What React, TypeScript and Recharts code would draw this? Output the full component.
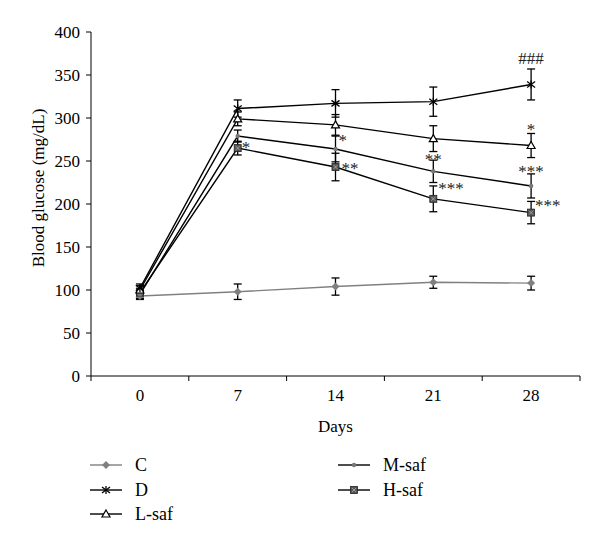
import { LineChart, Line, XAxis, YAxis, ErrorBar, LabelList } from "recharts";

const days = [0, 7, 14, 21, 28];
const yTicks = [0, 50, 100, 150, 200, 250, 300, 350, 400];
const dayEdges = [-3.5, 3.5, 10.5, 17.5, 24.5, 31.5];

const cMean = [93, 98, 104, 109, 108];
const cErr = [4, 9, 10, 7, 8];
const dMean = [102, 311, 317, 319, 339];
const dErr = [5, 10, 16, 17, 18];
const lMean = [100, 299, 292, 276, 268];
const lErr = [5, 8, 12, 15, 14];
const mMean = [95, 279, 264, 238, 221];
const mErr = [5, 7, 15, 13, 14];
const hMean = [97, 265, 243, 206, 190];
const hErr = [5, 8, 16, 15, 13];

const dMarks = ["", "", "", "", "###"];
const lMarks = ["", "", "", "", "*"];
const mMarks = ["", "", "*", "**", "***"];
const hMarks = ["", "*", "**", "***", "***"];

// label placement relative to the point: [dx, dy, anchor]
const markPos: Record<string, [number, number, string][]> = {
  D: [[0, 0, "middle"], [0, 0, "middle"], [0, 0, "middle"], [0, 0, "middle"], [0, -20, "middle"]],
  L: [[0, 0, "middle"], [0, 0, "middle"], [0, 0, "middle"], [0, 0, "middle"], [0, -11, "middle"]],
  M: [[0, 0, "middle"], [0, 0, "middle"], [3, -3, "start"], [0, -6, "middle"], [0, -9, "middle"]],
  H: [[0, 0, "middle"], [4, 5, "start"], [6, 7, "start"], [5, -5, "start"], [4, -2, "start"]],
};

const data = days.map((day, i) => ({
  day,
  C: cMean[i],
  C_err: cErr[i],
  D: dMean[i],
  D_err: dErr[i],
  D_mark: dMarks[i],
  L: lMean[i],
  L_err: lErr[i],
  L_mark: lMarks[i],
  M: mMean[i],
  M_err: mErr[i],
  M_mark: mMarks[i],
  H: hMean[i],
  H_err: hErr[i],
  H_mark: hMarks[i],
}));

const FONT = "'Liberation Serif', 'DejaVu Serif', serif";
const BAND = 97.8;

function marker(kind: string, cx: number, cy: number, key?: any) {
  if (kind === "diamond")
    return (
      <polygon key={key} points={`${cx},${cy - 4} ${cx + 4},${cy} ${cx},${cy + 4} ${cx - 4},${cy}`} fill="#808080" />
    );
  if (kind === "star")
    return (
      <g key={key} stroke="#000" strokeWidth={1.3}>
        <line x1={cx} y1={cy - 4} x2={cx} y2={cy + 4} />
        <line x1={cx - 4} y1={cy - 3} x2={cx + 4} y2={cy + 3} />
        <line x1={cx - 4} y1={cy + 3} x2={cx + 4} y2={cy - 3} />
      </g>
    );
  if (kind === "triangle")
    return (
      <polygon key={key} points={`${cx},${cy - 4} ${cx + 4},${cy + 3} ${cx - 4},${cy + 3}`} fill="#fff" stroke="#000" strokeWidth={1.2} />
    );
  if (kind === "dot") return <circle key={key} cx={cx} cy={cy} r={2.2} fill="#777" />;
  return (
    <g key={key}>
      <rect x={cx - 3.5} y={cy - 3.5} width={7} height={7} fill="#555" stroke="#222" strokeWidth={0.8} />
      <line x1={cx - 2} y1={cy - 2} x2={cx + 2} y2={cy + 2} stroke="#bbb" strokeWidth={0.7} />
      <line x1={cx - 2} y1={cy + 2} x2={cx + 2} y2={cy - 2} stroke="#bbb" strokeWidth={0.7} />
    </g>
  );
}

const dotFor = (kind: string) => (p: any) => marker(kind, p.cx, p.cy, `${kind}-${p.index}`);

const markLabel = (id: string) => (p: any) => {
  if (!p.value) return null;
  const [dx, dy, anchor] = markPos[id][p.index];
  return (
    <text key={`${id}-m-${p.index}`} x={p.x + dx} y={p.y + dy} textAnchor={anchor as any} fontFamily={FONT} fontSize={17} fill="#222">
      {p.value}
    </text>
  );
};

const XTick = (p: any) => {
  const v = p.payload.value;
  if (v > 30) return null;
  return (
    <text x={p.x + BAND / 2} y={p.y} dy="0.71em" textAnchor="middle" fontFamily={FONT} fontSize={17} fill="#000">
      {v + 3.5}
    </text>
  );
};

const legendItems = [
  { name: "C", kind: "diamond", color: "#808080", left: 90, top: 465 },
  { name: "D", kind: "star", color: "#000", left: 90, top: 490 },
  { name: "L-saf", kind: "triangle", color: "#000", left: 90, top: 514 },
  { name: "M-saf", kind: "dot", color: "#000", left: 338, top: 465 },
  { name: "H-saf", kind: "square", color: "#000", left: 338, top: 490 },
];

export default function App() {
  const lineProps = { type: "linear" as const, isAnimationActive: false, strokeWidth: 1.4 };
  const errProps = { width: 4, stroke: "#000", strokeWidth: 1.3 };
  return (
    <div style={{ position: "absolute", left: 0, top: 0, width: 600, height: 547, background: "#fff", fontFamily: FONT }}>
      <LineChart width={600} height={440} data={data} margin={{ top: 32, right: 20, left: 0, bottom: 0 }}>
        <XAxis
          dataKey="day"
          type="number"
          domain={[-3.5, 31.5]}
          ticks={dayEdges}
          interval={0}
          tick={<XTick />}
          tickSize={5}
          tickMargin={8}
          height={64}
          stroke="#000"
          label={{ value: "Days", position: "insideBottom", offset: 8, fill: "#000", fontSize: 17, fontFamily: FONT }}
        />
        <YAxis
          type="number"
          domain={[0, 400]}
          ticks={yTicks}
          interval={0}
          width={91}
          tickSize={5}
          tickMargin={6}
          stroke="#000"
          tick={{ fill: "#000", fontSize: 17, fontFamily: FONT }}
          label={() => (
            <text x={38} y={188} transform="rotate(-90, 38, 188)" textAnchor="middle" dominantBaseline="central" fontFamily={FONT} fontSize={17} fill="#000">
              Blood glucose (mg/dL)
            </text>
          )}
        />
        <Line {...lineProps} dataKey="C" stroke="#808080" dot={dotFor("diamond")}>
          <ErrorBar dataKey="C_err" {...errProps} />
        </Line>
        <Line {...lineProps} dataKey="H" stroke="#000" dot={dotFor("square")}>
          <ErrorBar dataKey="H_err" {...errProps} />
          <LabelList dataKey="H_mark" content={markLabel("H")} />
        </Line>
        <Line {...lineProps} dataKey="M" stroke="#000" dot={dotFor("dot")}>
          <ErrorBar dataKey="M_err" {...errProps} />
          <LabelList dataKey="M_mark" content={markLabel("M")} />
        </Line>
        <Line {...lineProps} dataKey="L" stroke="#000" dot={dotFor("triangle")}>
          <ErrorBar dataKey="L_err" {...errProps} />
          <LabelList dataKey="L_mark" content={markLabel("L")} />
        </Line>
        <Line {...lineProps} dataKey="D" stroke="#000" dot={dotFor("star")}>
          <ErrorBar dataKey="D_err" {...errProps} />
          <LabelList dataKey="D_mark" content={markLabel("D")} />
        </Line>
      </LineChart>
      {legendItems.map((it) => (
        <div
          key={it.name}
          style={{ position: "absolute", left: it.left, top: it.top - 10, height: 20, display: "flex", alignItems: "center", fontSize: 18, color: "#000" }}
        >
          <svg width={32} height={20} style={{ display: "block" }}>
            <line x1={0} y1={10} x2={32} y2={10} stroke={it.color} strokeWidth={1.4} />
            {marker(it.kind, 16, 10)}
          </svg>
          <span style={{ marginLeft: 13 }}>{it.name}</span>
        </div>
      ))}
    </div>
  );
}
